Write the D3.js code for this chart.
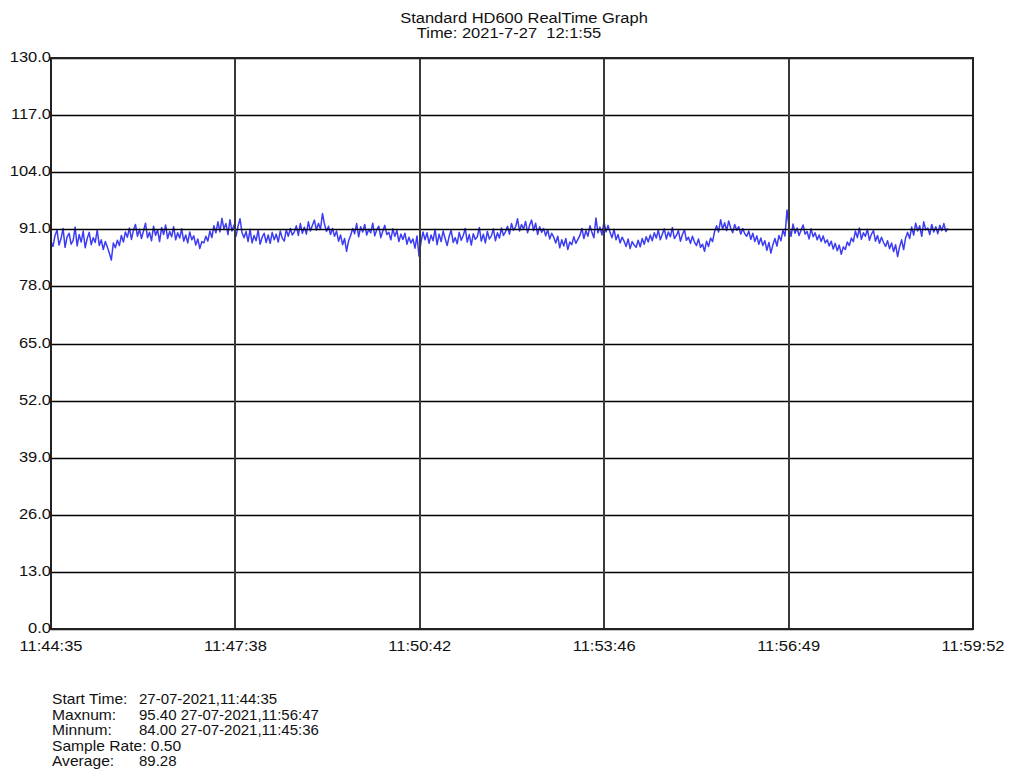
<!DOCTYPE html>
<html>
<head>
<meta charset="utf-8">
<script src="https://cdn.jsdelivr.net/npm/d3@7"></script>
<style>
  body { margin: 0; background: #fff; }
  text { font-family: "Liberation Sans", Arial, sans-serif; fill: #111; white-space: pre; }
</style>
</head>
<body>
<svg id="canvas" width="1012" height="772"></svg>
<script>
// chart data
const titleLines = ["Standard HD600 RealTime Graph", "Time: 2021-7-27  12:1:55"];
const yTicks = [0, 13, 26, 39, 52, 65, 78, 91, 104, 117, 130];
const xTickLabels = ["11:44:35", "11:47:38", "11:50:42", "11:53:46", "11:56:49", "11:59:52"];
const totalSeconds = 917; // 11:44:35 -> 11:59:52
const sampleSeconds = 2;  // sample rate 0.50
const statLabels = ["Start Time:", "Maxnum:", "Minnum:", "Sample Rate: 0.50", "Average:"];
const statValues = ["27-07-2021,11:44:35", "95.40 27-07-2021,11:56:47", "84.00 27-07-2021,11:45:36", "", "89.28"];

// readings, one every 2 seconds
const values = [
  88.2,87.1,89.6,90.8,87.4,88.9,91.2,86.9,89.3,90.1,87.6,88.4,91.5,87.2,89.8,88.1,90.6,86.8,88.9,90.3,87.5,89.1,88.0,90.9,87.3,88.6,86.4,88.2,87.0,85.6,84.0,
  87.9,86.8,88.5,87.3,89.6,88.1,90.4,89.2,91.3,88.7,90.8,92.1,89.4,91.0,88.9,90.6,92.4,89.1,90.3,88.4,91.7,89.6,90.9,88.2,91.4,89.8,92.0,88.9,90.5,89.3,91.6,88.6,90.2,89.0,91.1,88.3,89.7,87.9,90.4,88.6,89.5,87.4,88.8,86.6,88.2,
  87.9,89.4,88.3,90.6,89.1,91.8,90.2,
  92.7,90.4,93.5,91.1,92.3,89.8,93.2,90.6,92.0,89.4,91.7,93.4,90.2,
  89.1,90.5,88.2,91.0,87.9,89.6,88.4,90.8,87.6,89.2,90.1,88.0,89.7,87.8,90.3,88.6,89.9,88.1,90.6,89.0,88.3,90.9,89.4,91.2,89.7,
  90.4,91.8,89.6,92.3,90.1,91.5,89.9,92.7,90.6,91.9,93.1,90.8,92.4,91.0,94.6,92.2,90.5,91.7,89.8,91.2,
  89.4,90.6,88.3,89.7,87.5,88.9,86.0,88.4,
  89.6,91.2,90.0,92.3,89.3,91.6,90.4,92.1,89.7,91.0,90.2,92.4,89.5,90.9,91.7,89.1,90.6,91.9,89.8,90.3,88.6,91.1,89.4,90.7,88.2,89.9,88.7,
  90.1,87.6,89.2,87.9,88.8,86.7,89.5,84.9,88.1,90.4,
  88.6,90.2,87.8,89.7,88.4,91.0,87.5,89.9,88.2,90.6,88.9,87.3,89.4,90.8,88.0,89.1,87.7,90.3,88.5,89.6,91.2,88.1,89.8,87.4,90.0,88.7,89.3,91.4,88.3,89.9,87.9,90.5,88.8,89.5,91.1,88.4,90.2,89.0,91.3,89.6,
  90.4,91.7,89.9,92.3,90.8,91.5,93.4,90.6,92.1,91.0,92.8,90.2,91.9,93.1,90.7,92.4,89.8,91.6,90.3,91.2,89.5,90.9,88.8,90.1,89.2,
  87.9,89.4,86.8,88.6,87.2,88.9,86.4,88.1,87.5,89.3,87.8,88.7,
  89.6,91.2,88.9,90.7,89.4,91.8,90.3,89.1,93.6,90.2,91.5,89.7,92.8,90.4,91.9,
  90.3,89.1,91.0,88.6,89.8,87.9,89.2,88.3,87.1,88.8,86.6,88.2,87.4,86.9,88.5,87.0,88.9,87.6,89.3,88.1,89.7,
  88.4,90.2,89.0,90.8,88.6,89.9,91.1,88.8,90.4,89.3,91.4,88.9,89.6,90.7,88.3,89.8,90.9,88.5,89.2,87.8,89.4,88.1,87.3,88.8,86.9,
  87.6,86.0,88.3,87.1,89.0,88.2,90.5,
  91.8,90.4,93.2,91.0,92.5,90.7,92.9,91.3,90.2,92.1,90.8,91.6,89.9,91.2,90.0,
  89.4,90.6,88.7,90.1,88.2,89.5,87.6,89.0,87.3,88.4,86.2,88.0,85.6,87.5,88.9,87.2,89.6,88.4,90.8,89.5,95.4,
  91.6,89.4,92.2,90.1,91.3,89.6,90.8,92.0,89.9,90.5,88.8,91.1,89.3,90.2,88.6,89.7,88.2,89.5,87.9,
  88.6,87.2,88.3,86.5,87.8,86.1,87.4,85.3,87.0,86.4,88.1,87.3,89.0,
  88.2,90.6,89.1,91.3,88.7,90.2,89.4,91.0,88.5,89.9,90.7,88.3,89.6,87.8,89.2,88.0,87.1,
  88.4,86.6,87.9,85.9,87.5,84.8,87.0,88.6,86.4,89.1,
  90.3,88.9,91.5,89.7,92.4,90.6,91.8,89.4,92.7,90.9,91.3,89.8,92.1,90.4,91.6,90.0,91.9,90.7,92.3,90.5,91.2
];

let canvas = d3.select("#canvas");
const plotLeft = 51, plotRight = 973, plotTop = 58, plotBottom = 629;
const stretch = 1.1; // the printed labels are a bit wide

let x = d3.scaleLinear().domain([0, totalSeconds]).range([plotLeft, plotRight]);
let y = d3.scaleLinear().domain([0, 130]).range([plotBottom, plotTop]);

// title
canvas.selectAll(".title")
  .data(titleLines)
  .enter()
  .append("text")
  .attr("transform", (d, i) => `translate(${i == 0 ? 524 : 509},${23 + i * 15}) scale(${stretch},1)`)
  .attr("text-anchor", "middle")
  .attr("font-size", "15px")
  .text((d) => d);

// data line
const line = d3.line()
  .x((d, i) => x(i * sampleSeconds))
  .y((d) => y(d));

canvas.append("path")
  .datum(values)
  .attr("d", line)
  .attr("fill", "none")
  .attr("stroke", "#3c3cf4")
  .attr("stroke-width", 1.5)
  .attr("stroke-linejoin", "round");

// horizontal grid
canvas.selectAll(".hgrid")
  .data(yTicks)
  .enter()
  .append("line")
  .attr("x1", plotLeft)
  .attr("x2", plotRight)
  .attr("y1", (d) => Math.round(y(d)) + 0.5)
  .attr("y2", (d) => Math.round(y(d)) + 0.5)
  .attr("stroke", "#000")
  .attr("stroke-width", 1.4);

// vertical grid
const xTicks = xTickLabels.map((d, i) => (i * totalSeconds) / (xTickLabels.length - 1));
canvas.selectAll(".vgrid")
  .data(xTicks.slice(1, -1))
  .enter()
  .append("line")
  .attr("x1", (d) => Math.round(x(d)))
  .attr("x2", (d) => Math.round(x(d)))
  .attr("y1", plotTop)
  .attr("y2", plotBottom)
  .attr("stroke", "#3a3a3a")
  .attr("stroke-width", 2);

// frame
canvas.append("rect")
  .attr("x", plotLeft)
  .attr("y", plotTop)
  .attr("width", plotRight - plotLeft)
  .attr("height", plotBottom - plotTop)
  .attr("fill", "none")
  .attr("stroke", "#222")
  .attr("stroke-width", 2);

// y labels
canvas.selectAll(".ylab")
  .data(yTicks)
  .enter()
  .append("text")
  .attr("transform", (d) => `translate(${plotLeft},${y(d) + 4}) scale(${stretch},1)`)
  .attr("text-anchor", "end")
  .attr("font-size", "15px")
  .text((d) => d.toFixed(1));

// x labels
canvas.selectAll(".xlab")
  .data(xTickLabels)
  .enter()
  .append("text")
  .attr("transform", (d, i) => `translate(${x(xTicks[i])},651) scale(${stretch},1)`)
  .attr("text-anchor", "middle")
  .attr("font-size", "15px")
  .text((d) => d);

// stats block
canvas.selectAll(".slab")
  .data(statLabels)
  .enter()
  .append("text")
  .attr("transform", (d, i) => `translate(52,${704 + i * 15.6}) scale(1.04,1)`)
  .attr("font-size", "15px")
  .text((d) => d);

canvas.selectAll(".sval")
  .data(statValues)
  .enter()
  .append("text")
  .attr("transform", (d, i) => `translate(139,${704 + i * 15.6})`)
  .attr("font-size", "15px")
  .text((d) => d);
</script>
</body>
</html>
